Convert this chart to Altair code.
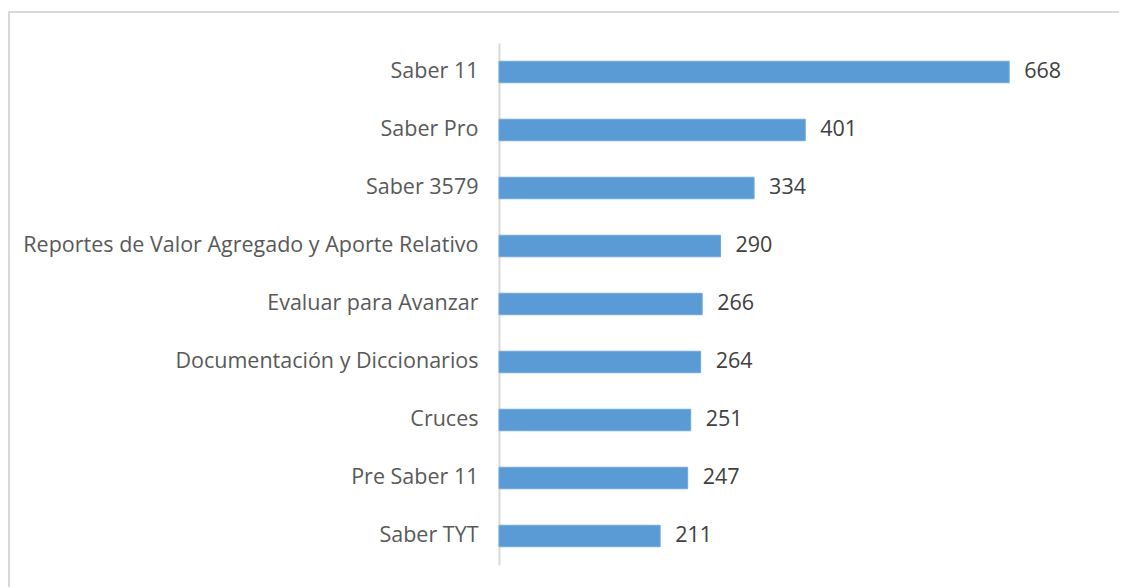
import altair as alt
import pandas as pd

categories = ["Saber 11", "Saber Pro", "Saber 3579",
              "Reportes de Valor Agregado y Aporte Relativo",
              "Evaluar para Avanzar", "Documentación y Diccionarios",
              "Cruces", "Pre Saber 11", "Saber TYT"]
values = [668, 401, 334, 290, 266, 264, 251, 247, 211]

df = pd.DataFrame({"cat": categories, "val": values})

W, H = 611, 522
FONT = "Open Sans"
FS = 21.5

y_enc = alt.Y("cat:N", sort=categories, title=None,
              scale=alt.Scale(paddingInner=0.63, paddingOuter=0.315),
              axis=alt.Axis(ticks=False, domainColor="#d9d9d9", domainWidth=2,
                            labelFont=FONT, labelFontSize=FS, labelColor="#595959",
                            labelPadding=21, labelLimit=700))
x_enc = alt.X("val:Q", scale=alt.Scale(domain=[0, 800]), axis=None)

bars = alt.Chart(df).mark_bar(color="#5b9bd5", stroke="#6fa8dc", strokeWidth=1).encode(
    y=y_enc, x=x_enc)

labels = alt.Chart(df).mark_text(align="left", dx=15, font=FONT, fontSize=FS,
                                 color="#404040").encode(
    y=alt.Y("cat:N", sort=categories), x="val:Q", text="val:Q")

frame = alt.Chart(pd.DataFrame({"a": [0]})).mark_rect(
    fillOpacity=0, stroke="#d9d9d9", strokeWidth=2).encode(
    x=alt.value(-490), x2=alt.value(660), y=alt.value(-31), y2=alt.value(H + 60))

chart = alt.layer(frame, bars, labels).properties(
    width=W, height=H,
    autosize=alt.AutoSizeParams(type="none"),
    padding={"left": 491, "top": 35, "right": 9, "bottom": 22},
    background="white",
).configure_view(stroke=None)

chart.save("out.html", embed_options={"renderer": "svg", "actions": False})
